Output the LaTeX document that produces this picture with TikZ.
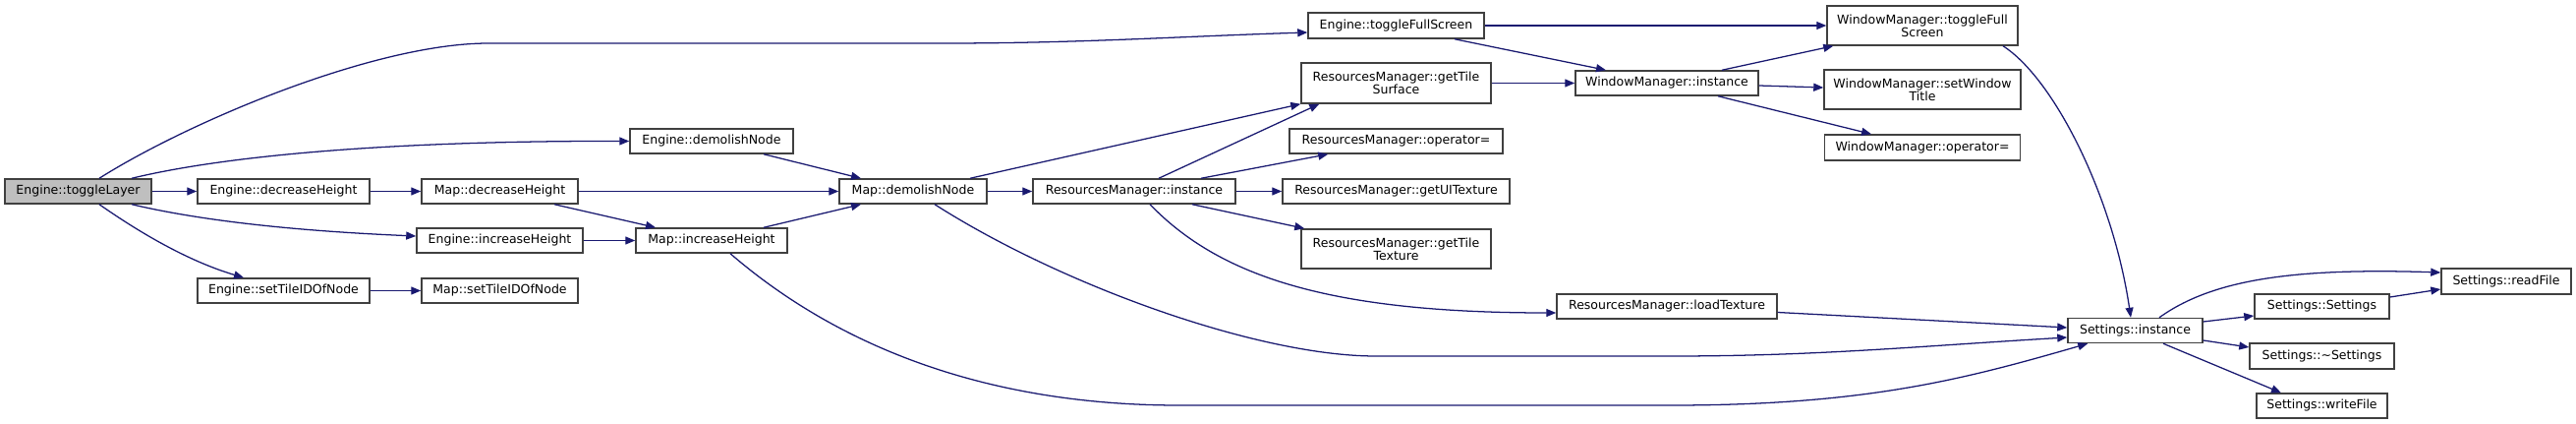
\documentclass[tikz,border=0pt]{standalone}
\usepackage{fontspec}
\setmainfont{DejaVu Sans}
\usetikzlibrary{arrows.meta,calc}
\definecolor{edgec}{HTML}{191970}
\definecolor{boxline}{HTML}{404040}
\definecolor{boxgray}{HTML}{BFBFBF}
\tikzset{
  fn/.style={draw=boxline,fill=white,line width=1.1pt,inner sep=0pt,align=center,
    minimum height=25*0.75pt,font=\fontsize{9.4}{10}\selectfont},
  fntwo/.style={fn,minimum height=40*0.75pt},
  call/.style={draw=edgec,line width=0.95pt,-{Triangle[length=7.5pt,width=6pt]}},
}
\begin{document}
\begin{tikzpicture}[x=0.75pt,y=-0.75pt]
\useasboundingbox (0,0) rectangle (2621,431);
% nodes
\node[fn,fill=boxgray,minimum width=149*0.75pt] (tl) at (79.5,194.5) {Engine::toggleLayer};
\node[fn,minimum width=175*0.75pt] (edh) at (288.5,194.5) {Engine::decreaseHeight};
\node[fn,minimum width=175*0.75pt] (est) at (288.5,295.5) {Engine::setTileIDOfNode};
\node[fn,minimum width=159*0.75pt] (mdh) at (508.5,194.5) {Map::decreaseHeight};
\node[fn,minimum width=169*0.75pt] (eih) at (508.5,244.5) {Engine::increaseHeight};
\node[fn,minimum width=159*0.75pt] (mst) at (508.5,295.5) {Map::setTileIDOfNode};
\node[fn,minimum width=166*0.75pt] (edn) at (724,143.5) {Engine::demolishNode};
\node[fn,minimum width=154*0.75pt] (mih) at (724,244.5) {Map::increaseHeight};
\node[fn,minimum width=150*0.75pt] (mdn) at (929,194.5) {Map::demolishNode};
\node[fn,minimum width=206*0.75pt] (rmi) at (1154,194.5) {ResourcesManager::instance};
\node[fn,minimum width=179*0.75pt,minimum height=26*0.75pt] (etfs) at (1420.5,26) {Engine::toggleFullScreen};
\node[fntwo,minimum width=193*0.75pt,minimum height=41*0.75pt] (rgts) at (1420.5,84.5) {ResourcesManager::getTile\\Surface};
\node[fn,minimum width=217*0.75pt] (rmop) at (1420.5,143.5) {ResourcesManager::operator=};
\node[fn,minimum width=231*0.75pt] (rgui) at (1420.5,194.5) {ResourcesManager::getUITexture};
\node[fntwo,minimum width=193*0.75pt] (rgtt) at (1420.5,253) {ResourcesManager::getTile\\Texture};
\node[fn,minimum width=224*0.75pt] (rlt) at (1696,311.5) {ResourcesManager::loadTexture};
\node[fn,minimum width=186*0.75pt] (wmi) at (1696,84.5) {WindowManager::instance};
\node[fntwo,minimum width=194*0.75pt] (wtfs) at (1956,26) {WindowManager::toggleFull\\Screen};
\node[fntwo,minimum width=200*0.75pt] (wswt) at (1956,91) {WindowManager::setWindow\\Title};
\node[fn,minimum width=199*0.75pt,minimum height=26*0.75pt] (wop) at (1956,150) {WindowManager::operator=};
\node[fn,minimum width=137*0.75pt] (si) at (2172.5,336) {Settings::instance};
\node[fn,minimum width=137*0.75pt] (ss) at (2362.5,311.5) {Settings::Settings};
\node[fn,minimum width=147*0.75pt,minimum height=26*0.75pt] (sd) at (2362.5,362) {Settings::\char"007E Settings};
\node[fn,minimum width=133*0.75pt] (swf) at (2362.5,412.5) {Settings::writeFile};
\node[fn,minimum width=132*0.75pt,minimum height=26*0.75pt] (srf) at (2550,286) {Settings::readFile};
% edges
\draw[call] ($(tl.north)+(21.5,0)$) .. controls (190,125) and (380,44) .. (497,44) -- (960,44) .. controls (1100,44) and (1200,37) .. ($(etfs.west)+(0,7)$);
\draw[call] ($(tl.north)+(54.5,0)$) .. controls (230,158) and (400,143) .. (edn.west);
\draw[call] (tl.east) -- (edh.west);
\draw[call] ($(tl.south)+(54.5,0)$) .. controls (220,228) and (330,236) .. ($(eih.west)+(0,-4.5)$);
\draw[call] ($(tl.south)+(21.5,0)$) .. controls (140,235) and (190,265) .. ($(est.north)+(-40.5,0)$);
\draw[call] (edh.east) -- (mdh.west);
\draw[call] (est.east) -- (mst.west);
\draw[call] (mdh.east) -- (mdn.west);
\draw[call] ($(mdh.south)+(55.5,0)$) -- ($(mih.north)+(-57,0)$);
\draw[call] (eih.east) -- (mih.west);
\draw[call] ($(edn.south)+(53,0)$) -- ($(mdn.north)+(-53,0)$);
\draw[call] ($(mih.north)+(53,0)$) -- ($(mdn.south)+(-53,0)$);
\draw[call] (mdn.east) -- (rmi.west);
\draw[call] ($(mdn.north)+(58,0)$) -- (rgts.south west);
\draw[call] ($(rmi.north)+(25,0)$) -- ($(rgts.south west)+(19,0)$);
\draw[call] ($(rmi.north)+(68,0)$) -- ($(rmop.south west)+(40,0)$);
\draw[call] (rmi.east) -- (rgui.west);
\draw[call] ($(rmi.south)+(59,0)$) -- ($(rgtt.north west)+(4,0)$);
\draw[call] ($(rmi.south)+(16,0)$) .. controls (1240,280) and (1350,318) .. ($(rlt.west)+(0,6.5)$);
\draw[call] ($(rlt.east)+(0,6)$) -- ($(si.west)+(0,-3)$);
\draw[call] ($(mdn.south)+(22,0)$) .. controls (1080,290) and (1280,362) .. (1400,362) -- (1700,362) .. controls (1850,362) and (1950,352) .. ($(si.west)+(0,7)$);
\draw[call] ($(mih.south)+(19,0)$) .. controls (850,350) and (1000,412) .. (1200,412) -- (1700,412) .. controls (1900,412) and (2000,385) .. ($(si.south west)+(21,0)$);
\draw[call] (etfs.east) -- (wtfs.west);
\draw[call] ($(etfs.south)+(59.5,0)$) -- ($(wmi.north)+(-62,0)$);
\draw[call] (rgts.east) -- (wmi.west);
\draw[call] ($(wmi.north)+(56,0)$) -- ($(wtfs.south west)+(7,0)$);
\draw[call] ($(wmi.east)+(0,2.5)$) -- ($(wswt.west)+(0,-2)$);
\draw[call] ($(wmi.south)+(52,0)$) -- ($(wop.north)+(-52,0)$);
\draw[call] ($(wtfs.south)+(82,0)$) .. controls (2090,80) and (2150,200) .. ($(si.north)+(-4.5,0)$);
\draw[call] ($(si.north)+(24.5,0)$) .. controls (2250,285) and (2330,272) .. ($(srf.west)+(0,-9)$);
\draw[call] ($(si.east)+(0,-9)$) -- ($(ss.west)+(0,9.5)$);
\draw[call] ($(si.east)+(0,10)$) -- ($(sd.west)+(0,-9)$);
\draw[call] ($(si.south)+(28.5,0)$) -- ($(swf.north)+(-41.5,0)$);
\draw[call] ($(ss.east)+(0,-9.5)$) -- ($(srf.west)+(0,8)$);
\end{tikzpicture}
\end{document}
